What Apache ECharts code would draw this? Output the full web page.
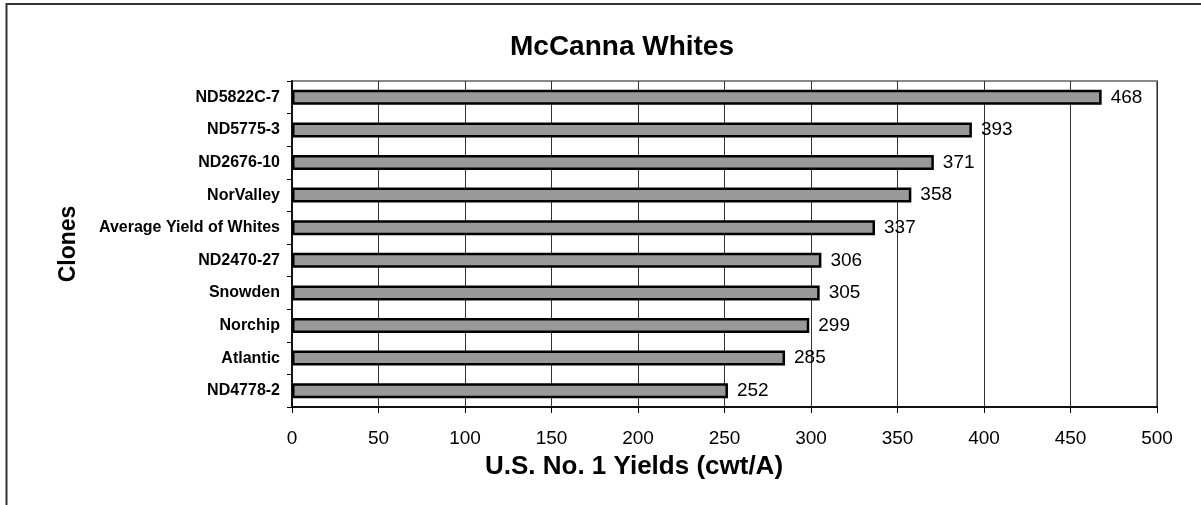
<!DOCTYPE html>
<html>
<head>
<meta charset="utf-8">
<script src="https://cdn.jsdelivr.net/npm/echarts@6/dist/echarts.min.js"></script>
<style>
  html, body { margin: 0; padding: 0; background: #fff; }
  #chart { width: 1201px; height: 505px; }
</style>
</head>
<body>
<div id="chart"></div>
<script>
// Clone names, top to bottom
const clones = [
  'ND5822C-7', 'ND5775-3', 'ND2676-10', 'NorValley', 'Average Yield of Whites',
  'ND2470-27', 'Snowden', 'Norchip', 'Atlantic', 'ND4778-2'
];
// U.S. No. 1 yields (cwt/A)
const yields = [468, 393, 371, 358, 337, 306, 305, 299, 285, 252];
// Value axis range
const axisMin = 0;
const axisMax = 500;
const axisStep = 50;

const chart = echarts.init(document.getElementById('chart'), null, { renderer: 'canvas' });

const font = 'Arial, "Liberation Sans", Helvetica, sans-serif';

chart.setOption({
  animation: false,
  backgroundColor: '#fff',
  textStyle: { fontFamily: font },
  title: {
    text: 'McCanna Whites',
    left: 617, top: 28, textAlign: 'center',
    textStyle: { fontFamily: font, fontSize: 28, fontWeight: 'bold', color: '#000' }
  },
  graphic: [
    {
      // outer frame
      type: 'rect',
      shape: { x: 6.5, y: 4, width: 1210, height: 520 },
      style: { fill: 'none', stroke: '#333', lineWidth: 2 },
      silent: true
    },
    {
      // value axis title
      type: 'text',
      x: 634, y: 467,
      style: {
        text: 'U.S. No. 1 Yields (cwt/A)',
        fontFamily: font, fontSize: 26, fontWeight: 'bold', fill: '#000',
        align: 'center', verticalAlign: 'middle'
      },
      silent: true
    }
  ],
  grid: {
    left: 292, right: 44, top: 81, bottom: 98,
    show: true, borderColor: '#888', borderWidth: 2, backgroundColor: 'transparent'
  },
  xAxis: {
    type: 'value',
    min: axisMin, max: axisMax, interval: axisStep,
    axisLine: { show: true, lineStyle: { color: '#111', width: 2 } },
    axisTick: { show: true, length: 6, lineStyle: { color: '#000', width: 1 } },
    axisLabel: { fontFamily: font, fontSize: 19, color: '#000', margin: 22 },
    splitLine: { show: true, lineStyle: { color: '#333', width: 1 } }
  },
  yAxis: {
    type: 'category',
    data: clones,
    inverse: true,
    name: 'Clones',
    nameLocation: 'middle', nameGap: 212, nameRotate: 90,
    nameTextStyle: { fontFamily: font, fontSize: 23, fontWeight: 'bold', color: '#000' },
    axisLine: { show: true, lineStyle: { color: '#111', width: 2 } },
    axisTick: { show: true, length: 5, alignWithLabel: false, lineStyle: { color: '#000', width: 1 } },
    axisLabel: { fontFamily: font, fontSize: 16, fontWeight: 'bold', color: '#000', margin: 12 },
    splitLine: { show: false }
  },
  series: [{
    type: 'bar',
    data: yields,
    barWidth: 15,
    itemStyle: { color: '#999999', borderColor: '#000', borderWidth: 2.5 },
    label: {
      show: true, position: 'right', distance: 9,
      fontFamily: font, fontSize: 19, color: '#000'
    }
  }]
});
</script>
</body>
</html>
